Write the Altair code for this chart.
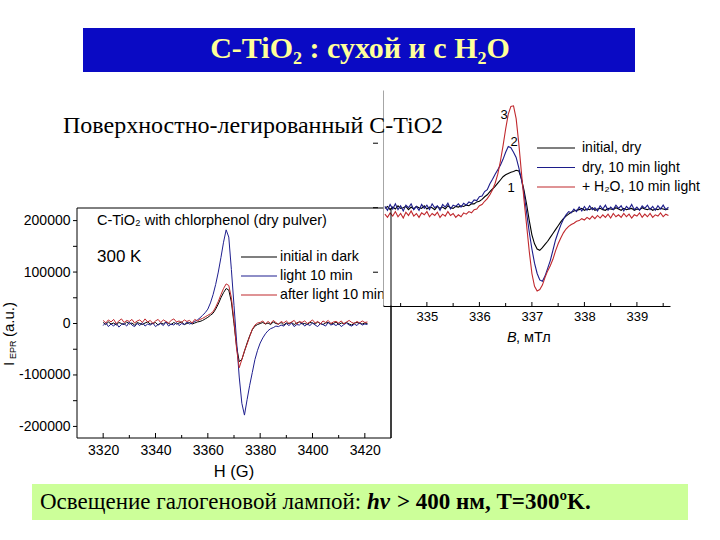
import altair as alt
import pandas as pd

SANS = "Liberation Sans"
SERIF = "Liberation Serif"

# ---------------- right spectrum: B (mT), 3 curves (arbitrary units x0.01) ----------------
b_mt = [round(334.20 + 0.05 * i, 2) for i in range(109)]
right_initial = [
    -1, 2, -3, 1, -2, 3, -1, 0, 2, -3, 1, -2, 2, 0, -1, 3, -2, 1, 0, -3, 2, -1, 1, -2, 3, 0, -1, 2, 1, 3,
    2, 4, 3, 6, 6, 9, 10, 13, 17, 20, 25, 29, 33, 38, 43, 48, 51, 53, 55, 56, 58, 57, 45, 27, 5, -20, -42,
    -56, -64, -66, -62, -57, -52, -46, -40, -34, -28, -22, -17, -13, -10, -7, -5, -4,
    -3, -1, -4, -2, -3, 0, -4, -2, -1, -3, -4, -1, -2, -3, 0, -2, -4, -1, -3, -2, -1, -4, -2, -3, 0, -2,
    -3, -1, -4, -2, -3, -1, -2, -3, -2]
right_dry_light = [
    2, -4, 5, -2, 6, -3, 3, -5, 4, 0, 6, -3, 2, -4, 5, -1, 4, -3, 6, 0, 3, -4, 5, 1, 7, -2, 4, 2, 6, 1,
    7, 4, 9, 7, 12, 11, 17, 18, 25, 28, 37, 44, 52, 59, 66, 75, 86, 95, 93, 86, 78, 62, 44, 22, -8, -38,
    -64, -86, -102, -112, -114, -106, -94, -82, -66, -50, -38, -27, -18, -11, -6,
    -8, -2, -6, 1, -5, 2, -4, 3, -3, 0, -5, 3, -2, 4, -4, 1, -3, 4, -1, 3, -5, 2, -2, 5, -3, 1, -4, 3,
    -1, 4, -3, 2, -4, 3, -2, 4, -3, 1]
right_h2o_light = [
    -10, -15, -8, -13, -6, -14, -9, -16, -7, -12, -5, -13, -9, -15, -8, -11, -6, -14, -9, -12, -7, -15,
    -10, -13, -6, -12, -9, -15, -11, -14, -8,
    -10, -6, -8, -3, -2, 3, 5, 10, 14, 20, 28, 38, 52, 72, 96, 122, 145, 157, 158, 138, 100, 55, 12, -28,
    -68, -102, -122, -129, -127, -120, -108, -98, -90, -80, -67, -56, -47, -39, -33, -29, -26, -24, -21,
    -20, -17,
    -19, -15, -18, -13, -17, -12, -16, -11, -15, -10, -16, -9, -14, -11, -15, -9, -14, -10, -16, -11, -13,
    -8, -15, -10, -14, -9, -15, -11, -13, -8, -14, -10, -12]

# ---------------- left spectrum: H (G), 3 curves (x1000) ----------------
h_g = list(range(3320, 3422))
left_dark = [
    2, -2, 3, -1, 1, -3, 2, 0, -2, 3, -1, 1, -3, 2, 0, -2, 1, 3, -1, 0, 2, -3, 1, -1, 3, 0, -2, 2, -1, 1,
    3, -2, 0, 2, -1, 1, 3,
    4, 6, 9, 12, 16, 20, 28, 38, 50, 60, 68, 65, 42, 0, -45, -74, -70, -54, -38, -24, -12, -5, -2, 0,
    2, -1, 1, -2, 3, 0, -1, 2, -3, 1, 0, 2, -2, 1, 3, -1, 0, -2, 2, 1, -1, 3, 0, -2, 1, 2, -1, 0, 3, -2,
    1, 0, 2, -1, -3, 1, 2, 0, -1, 1, 0]
left_light = [
    -4, 2, -6, -1, -5, 1, -7, -2, 0, -5, 3, -3, -6, 0, -4, 2, -5, -1, -3, 1, -6, -2, 0, -4, 3, -5, -1,
    -3, 2, -4, 0, -2, 3, -1, 1,
    4, 7, 11, 16, 21, 28, 40, 56, 76, 100, 128, 158, 182, 168, 105, 35, -35, -104, -155, -178, -148,
    -120, -95, -70, -52, -38, -28, -20, -14, -10, -8, -5, -6, -3,
    -5, 0, -4, 1, -6, -2, -3, 2, -5, -1, -4, 1, -3, -6, 0, -2, -5, 2, -3, -1, -4, 0, -6, -2, 1, -3, -5,
    -1, -4, 2, -3, -1, -2]
left_after = [
    6, 1, 7, 3, 8, 0, 5, 9, 2, 6, 4, 8, 1, 5, 7, 2, 9, 3, 6, 0, 5, 8, 2, 7, 4, 1, 6, 9, 3, 5, 2, 7, 4,
    6, 1, 8, 5,
    8, 10, 13, 16, 19, 23, 32, 43, 56, 68, 77, 74, 50, 5, -50, -86, -70, -53, -40, -25, -11, -3, 1, 2,
    5, -1, 4, 0, 6, 2, -2, 4, 1, 5, 0, 3, 6, -1, 4, 2, 5, 0, 3, 7, 1, 4, -1, 5, 2, 6, 0, 3, 4, 1, 5, -1,
    3, 6, 2, 0, 4, 1, 5, 2, 3]

# tick values
left_x_major = [3320, 3340, 3360, 3380, 3400, 3420]
left_x_minor = [3330, 3350, 3370, 3390, 3410]
left_y_major = [-200000, -100000, 0, 100000, 200000]
left_y_minor = [-150000, -50000, 50000, 150000]
right_x_major = [335, 336, 337, 338, 339]
right_x_minor = [334.5, 335.5, 336.5, 337.5, 338.5, 339.5]
right_y_major = [-1, 0, 1]

# legends / labels
left_series = ["initial in dark", "light 10 min", "after light 10 min"]
right_series = ["initial, dry", "dry, 10 min light", "+ H\u2082O, 10 min light"]
left_colors = ["#000000", "#1f1f8f", "#c0282d"]
right_colors = ["#000000", "#1c1c8a", "#c0282d"]

for a, n in [(right_initial, 109), (right_dry_light, 109), (right_h2o_light, 109),
             (left_dark, 102), (left_light, 102), (left_after, 102)]:
    assert len(a) == n, (len(a), n)

one = pd.DataFrame({"k": [0]})

LX = alt.Scale(domain=[3310, 3430], range=[77, 391], nice=False, zero=False)
LY = alt.Scale(domain=[-222500, 224500], range=[438, 208], nice=False, zero=False)
RX = alt.Scale(domain=[334.17, 339.63], range=[383.3, 670], nice=False, zero=False)
RY = alt.Scale(domain=[-1.524, 1.825], range=[306, 90], nice=False, zero=False)


def text(s, x, y, size, font=SANS, weight="normal", style="normal", align="left",
         baseline="middle", angle=0, color="black"):
    return alt.Chart(one).mark_text(
        text=s, align=align, baseline=baseline, font=font, fontSize=size,
        fontWeight=weight, fontStyle=style, angle=angle, color=color
    ).encode(x=alt.value(x), y=alt.value(y))


def rect(x1, x2, y1, y2, **kw):
    return alt.Chart(one).mark_rect(**kw).encode(
        x=alt.value(x1), x2=alt.value(x2), y=alt.value(y1), y2=alt.value(y2))


def hline(x1, x2, y, color="black", width=1.0):
    return alt.Chart(one).mark_rule(color=color, strokeWidth=width).encode(
        x=alt.value(x1), x2=alt.value(x2), y=alt.value(y))


def vline(x, y1, y2, color="black", width=1.0):
    return alt.Chart(one).mark_rule(color=color, strokeWidth=width).encode(
        x=alt.value(x), y=alt.value(y1), y2=alt.value(y2))


def curve(xs, ys, mult, color, xsc, ysc, xaxis=None, yaxis=None, width=1.0):
    df = pd.DataFrame({"x": xs, "y": [v * mult for v in ys]})
    return alt.Chart(df).mark_line(color=color, strokeWidth=width).encode(
        x=alt.X("x:Q", scale=xsc, axis=xaxis, title=None),
        y=alt.Y("y:Q", scale=ysc, axis=yaxis, title=None))


def xticks(vals, xsc, y0, length):
    df = pd.DataFrame({"t": vals})
    return alt.Chart(df).mark_rule(color="black", strokeWidth=1).encode(
        x=alt.X("t:Q", scale=xsc, axis=None), y=alt.value(y0), y2=alt.value(y0 - length))


def yticks(vals, ysc, x1, x2):
    df = pd.DataFrame({"t": vals})
    return alt.Chart(df).mark_rule(color="black", strokeWidth=1).encode(
        y=alt.Y("t:Q", scale=ysc, axis=None), x=alt.value(x1), x2=alt.value(x2))


lx_axis = alt.Axis(orient="bottom", offset=-102, values=left_x_major, labelExpr="'' + datum.value",
                   tickSize=0, domain=False, grid=False, labelPadding=5, labelFont=SANS,
                   labelFontSize=14, labelColor="black")
ly_axis = alt.Axis(orient="left", offset=-77, values=left_y_major, labelExpr="'' + datum.value",
                   tickSize=0, domain=False, grid=False, labelPadding=7, labelFont=SANS,
                   labelFontSize=14, labelColor="black")
rx_axis = alt.Axis(orient="bottom", offset=-234, values=right_x_major, labelExpr="'' + datum.value",
                   tickSize=0, domain=True, domainColor="black", domainWidth=1, grid=False,
                   labelPadding=4, labelFont=SANS, labelFontSize=13, labelColor="black")
ry_axis = alt.Axis(orient="left", offset=-383.3, values=right_y_major, labels=False, tickSize=0,
                   domain=True, domainColor="black", domainWidth=1, grid=False)

layers = []
# slide title
layers.append(rect(83, 635, 28, 72, fill="#0a0ac4"))
layers.append(text("C-TiO\u2082 : сухой и с H\u2082O", 360, 58, 30, font=SERIF, weight="bold",
                   align="center", baseline="alphabetic", color="#ffff99"))

# ---- left chart ----
layers.append(rect(77, 391, 208, 438, fillOpacity=0, stroke="black", strokeWidth=1))
layers.append(xticks(left_x_major, LX, 438, 5))
layers.append(xticks(left_x_minor, LX, 438, 3))
layers.append(yticks(left_y_major + left_y_minor, LY, 73, 77))
layers.append(curve(h_g, left_dark, 1000, left_colors[0], LX, LY, lx_axis, ly_axis))
layers.append(curve(h_g, left_light, 1000, left_colors[1], LX, LY))
layers.append(curve(h_g, left_after, 1000, left_colors[2], LX, LY))
layers.append(text("C-TiO\u2082 with chlorphenol (dry pulver)", 97, 221, 14.5))
layers.append(text("300 K", 97, 257, 17))
for i, (name, col) in enumerate(zip(left_series, left_colors)):
    yy = 257 + 19 * i
    layers.append(hline(241, 277, yy, col, 1.2))
    layers.append(text(name, 280, yy, 14.2))
layers.append(text("H (G)", 234, 472, 16.5, align="center"))
layers.append(text("I", 9, 366, 15, angle=270))
layers.append(text("EPR", 13, 359, 9, angle=270))
layers.append(text("(a.u.)", 9, 337, 15, angle=270))

# ---- right chart ----
layers.append(rect(383.5, 720, 85, 305.5, fill="white"))
layers.append(curve(b_mt, right_initial, 0.01, right_colors[0], RX, RY, rx_axis, ry_axis, 1.1))
layers.append(curve(b_mt, right_dry_light, 0.01, right_colors[1], RX, RY, width=1.1))
layers.append(curve(b_mt, right_h2o_light, 0.01, right_colors[2], RX, RY, width=1.1))
layers.append(xticks(right_x_major, RX, 306, 4))
layers.append(xticks(right_x_minor, RX, 306, 3))
layers.append(yticks(right_y_major, RY, 373, 378))
for i, (name, col) in enumerate(zip(right_series, right_colors)):
    yy = 148 + 19.5 * i
    layers.append(hline(537, 575, yy, col, 1.2))
    layers.append(text(name, 582, yy, 14))
layers.append(text("3", 504, 115, 13, align="center"))
layers.append(text("2", 514, 142, 13, align="center"))
layers.append(text("1", 511, 188, 13, align="center"))
layers.append(text("B", 507, 338, 14.5, style="italic"))
layers.append(text(", мТл", 516, 338, 14.5))
layers.append(vline(391, 208, 438))

# subtitle
layers.append(text("Поверхностно-легированный  C-TiO2", 63, 133, 24, font=SERIF,
                   baseline="alphabetic"))

# bottom box
layers.append(rect(32, 688, 484, 520, fill="#ccff99"))
layers.append(text("Освещение галогеновой лампой:", 40, 509, 23, font=SERIF, baseline="alphabetic"))
layers.append(text("h\u03bd", 367, 509, 23, font=SERIF, weight="bold", style="italic",
                   baseline="alphabetic"))
layers.append(text("> 400 нм, T=300ºK.", 397, 509, 23, font=SERIF, weight="bold",
                   baseline="alphabetic"))

chart = alt.layer(*layers).resolve_scale(
    x="independent", y="independent"
).resolve_axis(
    x="independent", y="independent"
).properties(
    width=720, height=540, padding=0, background="white",
    autosize=alt.AutoSizeParams(type="none")
).configure_view(strokeWidth=0)

chart.save("out.html", embed_options={"renderer": "svg", "actions": False})
